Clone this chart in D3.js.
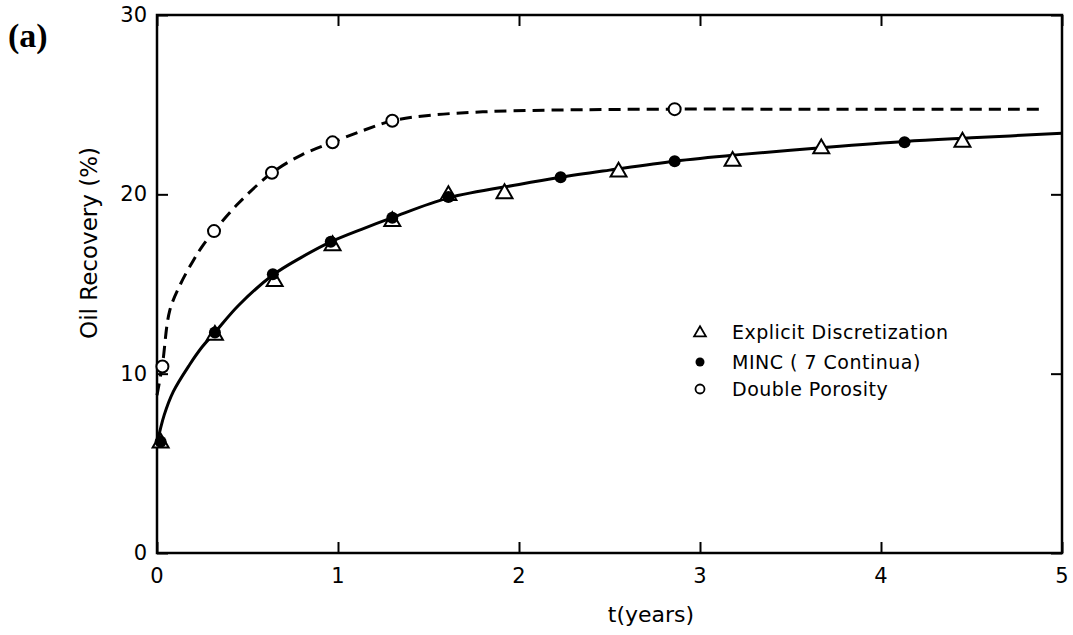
<!DOCTYPE html>
<html>
<head>
<meta charset="utf-8">
<script src="https://cdn.jsdelivr.net/npm/d3@7"></script>
<style>
    body { margin: 0; background: #fff; }
    svg text { font-family: "DejaVu Sans", sans-serif; fill: #000; }
    .frame { fill: none; stroke: #000; stroke-width: 2.5; }
</style>
</head>
<body>
<svg id="chart" width="1073" height="635"></svg>
<script>
// smooth curves
var solidT = [0, 0.04, 0.09, 0.18, 0.25, 0.32, 0.45, 0.64, 0.8, 0.96, 1.13, 1.3, 1.61, 2.0, 2.23, 2.5, 2.86, 3.2, 3.67, 4.13, 4.5, 5.0];
var solidY = [6.1, 7.7, 9.0, 10.5, 11.5, 12.3, 13.8, 15.5, 16.5, 17.35, 18.05, 18.7, 19.8, 20.55, 20.95, 21.35, 21.85, 22.2, 22.6, 22.95, 23.15, 23.4];
var dashT = [0, 0.03, 0.07, 0.13, 0.2, 0.25, 0.315, 0.45, 0.635, 0.8, 0.97, 1.15, 1.3, 1.5, 1.8, 2.2, 2.86, 3.5, 4.2, 4.9];
var dashY = [8.8, 10.5, 13.5, 15.0, 16.3, 17.1, 17.95, 19.5, 21.2, 22.2, 22.9, 23.6, 24.1, 24.4, 24.6, 24.7, 24.75, 24.75, 24.75, 24.75];

// markers
var explicitT = [0.02, 0.32, 0.65, 0.97, 1.30, 1.61, 1.92, 2.55, 3.18, 3.67, 4.45];
var explicitY = [6.2, 12.2, 15.2, 17.2, 18.55, 20.0, 20.1, 21.3, 21.9, 22.6, 22.97];
var mincT = [0.02, 0.32, 0.64, 0.96, 1.30, 1.61, 2.23, 2.86, 4.13];
var mincY = [6.2, 12.3, 15.55, 17.35, 18.7, 19.85, 20.95, 21.85, 22.9];
var doubleT = [0.03, 0.315, 0.635, 0.97, 1.30, 2.86];
var doubleY = [10.4, 17.95, 21.2, 22.9, 24.1, 24.75];

var xTicks = [0, 1, 2, 3, 4, 5];
var yTicks = [0, 10, 20, 30];
var legendLabels = ['Explicit Discretization', 'MINC ( 7 Continua)', 'Double Porosity'];

var svg = d3.select('#chart');
var plotL = 157, plotR = 1062, plotT = 15, plotB = 553;

var x = d3.scaleLinear().domain([0, 5]).range([plotL, plotR]);
var y = d3.scaleLinear().domain([0, 30]).range([plotB, plotT]);

// axes, ticks pointing inward on all four sides
var tickLen = 11;
function noDomain(g) { g.select('.domain').remove(); }
svg.append('g')
    .attr('transform', 'translate(0,' + plotB + ')')
    .call(d3.axisTop(x).tickValues(xTicks).tickSize(tickLen).tickFormat(''))
    .call(noDomain);
svg.append('g')
    .attr('transform', 'translate(0,' + plotT + ')')
    .call(d3.axisBottom(x).tickValues(xTicks).tickSize(tickLen).tickFormat(''))
    .call(noDomain);
svg.append('g')
    .attr('transform', 'translate(' + plotL + ',0)')
    .call(d3.axisRight(y).tickValues(yTicks).tickSize(tickLen).tickFormat(''))
    .call(noDomain);
svg.append('g')
    .attr('transform', 'translate(' + plotR + ',0)')
    .call(d3.axisLeft(y).tickValues(yTicks).tickSize(tickLen).tickFormat(''))
    .call(noDomain);
svg.selectAll('.tick line').attr('stroke', '#000').attr('stroke-width', 2);

svg.append('rect').classed('frame', true)
    .attr('x', plotL).attr('y', plotT)
    .attr('width', plotR - plotL).attr('height', plotB - plotT);

// tick labels
svg.selectAll('text.xl')
    .data(xTicks)
    .enter()
    .append('text')
    .classed('xl', true)
    .attr('x', function(d) { return x(d); })
    .attr('y', 583)
    .attr('text-anchor', 'middle')
    .style('font-size', '21px')
    .text(function(d) { return d; });
svg.selectAll('text.yl')
    .data(yTicks)
    .enter()
    .append('text')
    .classed('yl', true)
    .attr('x', 147)
    .attr('y', function(d) { return y(d) + 7; })
    .attr('text-anchor', 'end')
    .style('font-size', '21px')
    .text(function(d) { return d; });

// axis titles
svg.append('text')
    .attr('x', 651).attr('y', 622)
    .attr('text-anchor', 'middle')
    .style('font-size', '22px')
    .text('t(years)');
svg.append('text')
    .attr('transform', 'translate(97,243) rotate(-90)')
    .attr('text-anchor', 'middle')
    .style('font-size', '23px')
    .text('Oil Recovery (%)');
svg.append('text')
    .attr('x', 8).attr('y', 47)
    .style('font-family', '"Liberation Serif", serif')
    .style('font-size', '34px')
    .style('font-weight', 'bold')
    .text('(a)');

// curves
var line = d3.line()
    .x(function(d) { return x(d[0]); })
    .y(function(d) { return y(d[1]); })
    .curve(d3.curveCatmullRom.alpha(0.5));

svg.append('path')
    .datum(d3.zip(dashT, dashY))
    .attr('d', line)
    .style('fill', 'none')
    .style('stroke', '#000')
    .style('stroke-width', 3)
    .style('stroke-dasharray', '12,7');
svg.append('path')
    .datum(d3.zip(solidT, solidY))
    .attr('d', line)
    .style('fill', 'none')
    .style('stroke', '#000')
    .style('stroke-width', 3);

// markers
var triangle = d3.symbol().type(d3.symbolTriangle).size(110);
svg.selectAll('path.explicit')
    .data(d3.zip(explicitT, explicitY))
    .enter()
    .append('path')
    .classed('explicit', true)
    .attr('d', triangle)
    .attr('transform', function(d) { return 'translate(' + x(d[0]) + ',' + (y(d[1]) + 1) + ')'; })
    .style('fill', '#fff')
    .style('stroke', '#000')
    .style('stroke-width', 2);
svg.selectAll('circle.minc')
    .data(d3.zip(mincT, mincY))
    .enter()
    .append('circle')
    .classed('minc', true)
    .attr('cx', function(d) { return x(d[0]); })
    .attr('cy', function(d) { return y(d[1]); })
    .attr('r', 6)
    .style('fill', '#000');
svg.selectAll('circle.double')
    .data(d3.zip(doubleT, doubleY))
    .enter()
    .append('circle')
    .classed('double', true)
    .attr('cx', function(d) { return x(d[0]); })
    .attr('cy', function(d) { return y(d[1]); })
    .attr('r', 6)
    .style('fill', '#fff')
    .style('stroke', '#000')
    .style('stroke-width', 2);

// legend
var legend = svg.append('g').attr('transform', 'translate(700,332)');
legend.append('path')
    .attr('d', d3.symbol().type(d3.symbolTriangle).size(60))
    .attr('transform', 'translate(0,1)')
    .style('fill', '#fff').style('stroke', '#000').style('stroke-width', 1.8);
legend.append('circle')
    .attr('cx', 0).attr('cy', 30).attr('r', 4.5)
    .style('fill', '#000');
legend.append('circle')
    .attr('cx', 0).attr('cy', 57).attr('r', 4.5)
    .style('fill', '#fff').style('stroke', '#000').style('stroke-width', 1.8);
legend.selectAll('text')
    .data(legendLabels)
    .enter()
    .append('text')
    .attr('x', 32)
    .attr('y', function(d, i) { return [0, 30, 57][i] + 7; })
    .style('font-size', '19px')
    .style('letter-spacing', '0.5px')
    .text(function(d) { return d; });
</script>
</body>
</html>
